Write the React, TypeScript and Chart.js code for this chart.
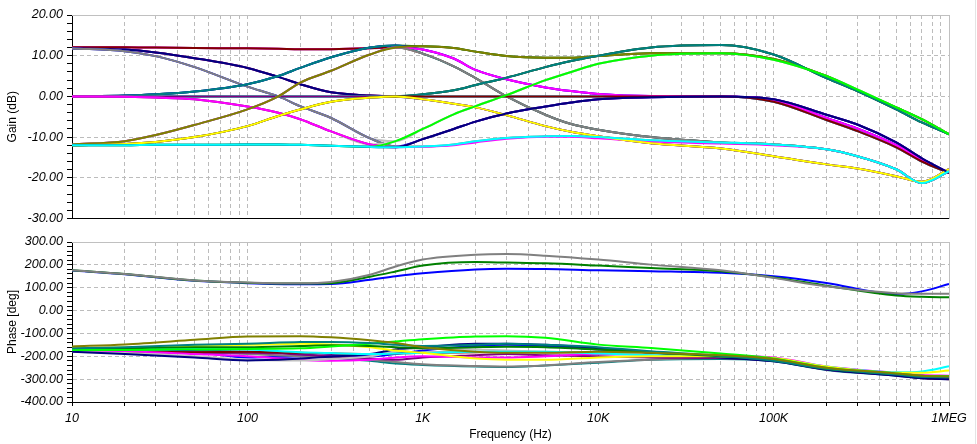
import React, { useEffect, useRef } from "react";
import { Chart, registerables } from "chart.js";

Chart.register(...registerables);

// ---------- frequencies ----------
const GAIN_FREQ = [10, 20, 30, 50, 100, 150, 200, 300, 500, 700, 1000, 1500, 2000, 3000, 5000, 7000, 10000, 20000, 50000, 100000, 200000, 300000, 500000, 700000, 1000000];
const PHASE_FREQ = [10, 20, 50, 100, 200, 300, 500, 700, 1000, 2000, 3000, 5000, 10000, 20000, 50000, 100000, 200000, 500000, 700000, 1000000];

// ---------- axis tick labels ----------
const X_DECADES = [10, 100, 1000, 10000, 100000, 1000000];
const X_LABELS = ["10", "100", "1K", "10K", "100K", "1MEG"];
const GAIN_MAJOR = [-30, -20, -10, 0, 10, 20];
const PHASE_MAJOR = [-400, -300, -200, -100, 0, 100, 200, 300];

// ---------- gain series (dB) ----------
const g01 = [12.1, 12.1, 12.0, 11.9, 11.8, 11.7, 11.6, 11.6, 11.8, 12.1, 12.3, 11.9, 11.0, 9.9, 9.5, 9.5, 9.9, 10.6, 10.6, 9.2, 5.0, 1.5, -2.7, -5.6, -9.3];
const g02 = [12.1, 12.1, 12.0, 11.9, 11.8, 11.7, 11.6, 11.6, 11.8, 12.1, 11.5, 9.3, 6.5, 4.2, 2.2, 1.3, 0.6, 0.1, 0.0, -0.9, -5.3, -7.9, -12.0, -15.6, -18.8];
const g03 = [12.1, 12.1, 12.0, 11.9, 11.8, 11.7, 11.6, 11.6, 11.8, 12.1, 10.5, 7.4, 4.5, 0.0, -4.5, -6.8, -8.2, -10.0, -11.3, -11.8, -13.0, -14.7, -17.9, -21.3, -18.4];
const g04 = [11.8, 11.5, 10.8, 9.4, 7.0, 4.8, 3.0, 1.0, 0.2, 0.0, 0.5, 1.5, 2.8, 4.6, 7.2, 8.7, 10.0, 12.0, 12.6, 10.3, 4.5, 1.3, -3.2, -6.4, -9.3];
const g05 = [11.8, 11.5, 10.8, 9.4, 7.0, 4.8, 3.0, 1.0, 0.2, 0.0, 0.0, 0.0, 0.0, 0.0, 0.0, 0.0, 0.0, 0.0, 0.0, -1.3, -5.8, -8.5, -12.5, -16.0, -18.8];
const g06 = [11.8, 11.5, 10.8, 9.4, 7.0, 4.8, 3.0, 1.0, 0.2, 0.0, -0.7, -1.8, -2.7, -4.6, -7.3, -8.7, -9.8, -11.5, -12.8, -14.7, -16.7, -17.7, -19.6, -21.0, -17.9];
const g07 = [11.8, 11.1, 9.9, 7.2, 2.4, 0.0, -2.4, -5.3, -10.3, -11.0, -8.0, -4.4, -2.4, 0.3, 4.0, 6.0, 8.0, 10.0, 10.6, 9.0, 5.0, 1.7, -2.7, -5.6, -9.3];
const g08 = [11.8, 11.1, 9.9, 7.2, 2.4, 0.0, -2.4, -5.3, -10.3, -12.3, -10.5, -8.0, -6.2, -4.2, -2.5, -1.5, -0.7, -0.2, 0.0, -0.7, -4.5, -6.9, -11.3, -15.2, -18.8];
const g09 = [11.8, 11.1, 9.9, 7.2, 2.4, 0.0, -2.4, -5.3, -10.3, -12.3, -12.3, -11.8, -11.0, -10.2, -9.8, -9.7, -10.0, -10.8, -11.3, -11.8, -13.0, -14.7, -17.9, -21.3, -18.4];
const g10 = [0.0, 0.2, 0.5, 1.2, 3.0, 5.0, 7.0, 9.6, 12.0, 12.5, 12.3, 11.9, 11.0, 9.9, 9.5, 9.5, 9.9, 10.6, 10.6, 9.2, 5.0, 1.5, -2.7, -5.6, -9.3];
const g11 = [0.0, 0.2, 0.5, 1.2, 3.0, 5.0, 7.0, 9.6, 12.0, 12.5, 11.5, 9.3, 6.5, 4.2, 2.2, 1.3, 0.6, 0.1, 0.0, -0.9, -5.3, -7.9, -12.0, -15.6, -18.8];
const g12 = [0.0, 0.2, 0.5, 1.2, 3.0, 5.0, 7.0, 9.6, 12.0, 12.5, 10.5, 7.4, 4.5, 0.0, -4.5, -6.8, -8.2, -10.0, -11.3, -11.8, -13.0, -14.7, -17.9, -21.3, -18.4];
const g13 = [0.0, 0.0, 0.0, 0.0, 0.0, 0.0, 0.0, 0.0, 0.0, 0.0, 0.5, 1.5, 2.8, 4.6, 7.2, 8.7, 10.0, 12.0, 12.6, 10.3, 4.5, 1.3, -3.2, -6.4, -9.3];
const g14 = [0.0, 0.0, 0.0, 0.0, 0.0, 0.0, 0.0, 0.0, 0.0, 0.0, 0.0, 0.0, 0.0, 0.0, 0.0, 0.0, 0.0, 0.0, 0.0, -1.3, -5.8, -8.5, -12.5, -16.0, -18.8];
const g15 = [0.0, 0.0, 0.0, 0.0, 0.0, 0.0, 0.0, 0.0, 0.0, 0.0, -0.7, -1.8, -2.7, -4.6, -7.3, -8.7, -9.8, -11.5, -12.8, -14.7, -16.7, -17.7, -19.6, -21.0, -17.9];
const g16 = [0.0, -0.1, -0.3, -0.7, -2.5, -4.0, -5.6, -8.6, -11.8, -11.0, -8.0, -4.4, -2.4, 0.3, 4.0, 6.0, 8.0, 10.0, 10.6, 9.0, 5.0, 1.7, -2.7, -5.6, -9.3];
const g17 = [0.0, -0.1, -0.3, -0.7, -2.5, -4.0, -5.6, -8.6, -11.8, -12.5, -10.5, -8.0, -6.2, -4.2, -2.5, -1.5, -0.7, -0.2, 0.0, -0.7, -4.5, -6.9, -11.3, -15.2, -18.8];
const g18 = [0.0, -0.1, -0.3, -0.7, -2.5, -4.0, -5.6, -8.6, -11.8, -12.5, -12.4, -12.0, -11.3, -10.4, -9.9, -9.9, -10.3, -11.1, -11.6, -12.0, -13.0, -14.7, -17.9, -21.3, -18.4];
const g19 = [-11.8, -11.0, -9.5, -7.0, -3.2, 0.0, 3.4, 6.3, 10.3, 12.0, 12.3, 11.9, 11.0, 9.9, 9.5, 9.5, 9.9, 10.6, 10.6, 9.2, 5.0, 1.5, -2.7, -5.6, -9.3];
const g20 = [-11.8, -11.0, -9.5, -7.0, -3.2, 0.0, 3.4, 6.3, 10.3, 12.0, 11.5, 9.3, 6.5, 4.2, 2.2, 1.3, 0.6, 0.1, 0.0, -0.9, -5.3, -7.9, -12.0, -15.6, -18.8];
const g21 = [-11.8, -11.0, -9.5, -7.0, -3.2, 0.0, 3.4, 6.3, 10.3, 12.0, 10.5, 7.4, 4.5, 0.0, -4.5, -6.8, -8.2, -10.0, -11.3, -11.8, -13.0, -14.7, -17.9, -21.3, -18.4];
const g22 = [-12.0, -11.7, -11.2, -10.0, -7.3, -4.8, -3.2, -1.3, -0.3, 0.0, 0.5, 1.5, 2.8, 4.6, 7.2, 8.7, 10.0, 12.0, 12.6, 10.3, 4.5, 1.3, -3.2, -6.4, -9.3];
const g23 = [-12.0, -11.7, -11.2, -10.0, -7.3, -4.8, -3.2, -1.3, -0.3, 0.0, 0.0, 0.0, 0.0, 0.0, 0.0, 0.0, 0.0, 0.0, 0.0, -1.3, -5.8, -8.5, -12.5, -16.0, -18.8];
const g24 = [-12.0, -11.7, -11.2, -10.0, -7.3, -4.8, -3.2, -1.3, -0.3, 0.0, -0.7, -1.8, -2.7, -4.6, -7.3, -8.7, -9.8, -11.5, -12.8, -14.7, -16.7, -17.7, -19.6, -21.0, -17.9];
const g25 = [-12.0, -12.0, -11.9, -11.9, -11.8, -11.8, -11.9, -12.1, -12.4, -11.0, -8.0, -4.4, -2.4, 0.3, 4.0, 6.0, 8.0, 10.0, 10.6, 9.0, 5.0, 1.7, -2.7, -5.6, -9.3];
const g26 = [-12.0, -12.0, -11.9, -11.9, -11.8, -11.8, -11.9, -12.1, -12.4, -12.5, -10.5, -8.0, -6.2, -4.2, -2.5, -1.5, -0.7, -0.2, 0.0, -0.7, -4.5, -6.9, -11.3, -15.2, -18.8];
const g27 = [-12.0, -12.0, -11.9, -11.9, -11.8, -11.8, -11.9, -12.1, -12.4, -12.5, -12.3, -11.8, -11.0, -10.2, -9.8, -9.7, -10.0, -10.8, -11.3, -11.8, -13.0, -14.7, -17.9, -21.3, -18.4];

// drawn in this order (last one on top)
const GAIN_SERIES = [g01, g02, g03, g04, g05, g06, g07, g08, g09, g10, g11, g12, g13, g14, g15, g16, g17, g18, g20, g21, g19, g22, g23, g24, g25, g26, g27];
const GAIN_COLORS = [
  "#808080", "#FF00FF", "#800000", "#800080", "#800080", "#000080", "#C0C0C0", "#0000FF", "#808080",
  "#008000", "#0000FF", "#008080", "#008000", "#00FFFF", "#800080", "#C0C0C0", "#800080", "#FF00FF",
  "#FF00FF", "#808080", "#808000", "#008080", "#800000", "#FFFF00", "#00FF00", "#000080", "#00FFFF",
];

// ---------- phase series (deg) ----------
const u01 = [176, 160, 132, 123, 119, 125, 157, 193, 223, 244, 247, 240, 223, 201, 176, 143, 106, 76, 74, 74];
const u02 = [176, 160, 132, 122, 118, 120, 148, 171, 197, 212, 210, 207, 197, 186, 172, 145, 109, 66, 60, 58];
const u03 = [175, 159, 130, 120, 115, 116, 135, 150, 163, 180, 183, 182, 176, 172, 165, 150, 121, 72, 84, 116];
const p01 = [-157, -148, -128, -113, -112, -117, -130, -142, -160, -180, -185, -185, -180, -185, -195, -212, -250, -275, -285, -288];
const p02 = [-165, -160, -150, -145, -138, -137, -142, -150, -155, -150, -145, -150, -160, -178, -198, -220, -255, -280, -290, -292];
const p03 = [-172, -172, -170, -168, -165, -157, -145, -135, -125, -113, -112, -119, -149, -164, -188, -210, -250, -275, -285, -287];
const p04 = [-168, -165, -160, -160, -155, -152, -155, -160, -165, -160, -158, -160, -170, -183, -200, -218, -255, -278, -287, -288];
const p05 = [-165, -162, -155, -150, -145, -148, -160, -175, -185, -210, -215, -215, -205, -200, -200, -208, -245, -272, -272, -262];
const p06 = [-170, -170, -168, -170, -182, -186, -190, -188, -185, -180, -180, -180, -188, -195, -200, -210, -245, -270, -266, -244];
const p07 = [-180, -190, -205, -218, -210, -202, -190, -170, -160, -145, -145, -150, -165, -185, -205, -222, -258, -285, -296, -300];
const p08 = [-180, -186, -200, -215, -218, -212, -200, -178, -165, -170, -175, -180, -185, -190, -200, -215, -252, -280, -290, -292];
const p09 = [-175, -178, -190, -200, -215, -220, -215, -205, -200, -205, -205, -200, -190, -192, -198, -205, -245, -272, -282, -285];
const p10 = [-178, -180, -182, -180, -185, -188, -190, -188, -185, -182, -180, -182, -185, -190, -200, -215, -255, -283, -295, -300];
const p11 = [-175, -180, -185, -185, -192, -200, -210, -215, -205, -195, -190, -195, -200, -205, -208, -220, -258, -282, -292, -295];
const p12 = [-172, -175, -182, -190, -200, -205, -215, -225, -235, -243, -245, -240, -225, -215, -208, -215, -250, -278, -288, -290];
const p13 = [-170, -172, -180, -205, -200, -196, -200, -190, -175, -155, -150, -155, -170, -185, -202, -215, -252, -280, -290, -292];
const p14 = [-168, -170, -175, -180, -190, -205, -220, -232, -238, -245, -247, -240, -228, -215, -212, -222, -260, -285, -295, -297];

// drawn in this order (last one on top)
const PHASE_SERIES = [p14, p13, p12, p11, p10, p09, p08, p07, p06, p05, p04, p03, p02, p01, u03, u02, u01];
const PHASE_COLORS = [
  "#008080", "#0000FF", "#808080", "#800080", "#800000", "#FF00FF", "#C0C0C0", "#000080", "#00FFFF",
  "#FFFF00", "#008000", "#00FF00", "#008080", "#808000", "#0000FF", "#008000", "#808080",
];

// ---------- styling ----------
const FONT = "'Liberation Sans', Arial, Helvetica, sans-serif";
const GRID = "#bcbcbc";
const DASH = [4, 3];

function xTickList(): number[] {
  const list: number[] = [];
  for (let d = 0; d < X_DECADES.length - 1; d++) {
    for (let k = 1; k <= 9; k++) list.push(X_DECADES[d] * k);
  }
  list.push(X_DECADES[X_DECADES.length - 1]);
  return list;
}

function yTickList(major: number[], sub: number): number[] {
  const list: number[] = [];
  for (let i = 0; i < major.length - 1; i++) {
    const step = (major[i + 1] - major[i]) / sub;
    for (let k = 0; k < sub; k++) list.push(major[i] + k * step);
  }
  list.push(major[major.length - 1]);
  return list;
}

const framePlugin = {
  id: "frameLines",
  beforeDatasetsDraw(chart: any) {
    const { ctx, chartArea } = chart;
    const l = Math.round(chartArea.left);
    const r = Math.round(chartArea.right) + 0.5;
    const t = Math.round(chartArea.top) + 0.5;
    const b = Math.round(chartArea.bottom);
    ctx.save();
    ctx.strokeStyle = "#c0c0c0";
    ctx.lineWidth = 1;
    ctx.setLineDash([]);
    ctx.beginPath();
    ctx.moveTo(l, t);
    ctx.lineTo(r, t);
    ctx.lineTo(r, b);
    ctx.stroke();
    ctx.restore();
  },
};

function buildDatasets(series: number[][], freqs: number[], colors: string[]) {
  const n = series.length;
  return series.map((vals, i) => ({
    data: vals.map((y, j) => ({ x: freqs[j], y })),
    borderColor: colors[i],
    backgroundColor: colors[i],
    borderWidth: 2,
    pointRadius: 0,
    fill: false,
    order: n - i,
    cubicInterpolationMode: "monotone" as const,
  }));
}

function xScale(showLabels: boolean, height: number) {
  const ticks = xTickList();
  return {
    type: "logarithmic" as const,
    min: 10,
    max: 1000000,
    afterBuildTicks: (s: any) => {
      s.ticks = ticks.map((v) => ({ value: v }));
    },
    afterFit: (s: any) => {
      s.height = height;
    },
    ticks: {
      display: showLabels,
      autoSkip: false,
      maxRotation: 0,
      minRotation: 0,
      padding: 5,
      color: "#000",
      font: { family: FONT, size: 12.5, style: "italic" as const },
      callback: (v: any) => {
        const idx = X_DECADES.indexOf(Number(v));
        return idx >= 0 ? X_LABELS[idx] : "";
      },
    },
    grid: {
      color: GRID,
      lineWidth: 1,
      drawTicks: showLabels,
      tickLength: 4,
      tickColor: "#000",
    },
    border: { display: true, color: "#000", width: 1, dash: DASH },
    title: showLabels
      ? {
          display: true,
          text: "Frequency (Hz)",
          color: "#000",
          font: { family: FONT, size: 12 },
          padding: { top: 0, bottom: 2 },
        }
      : { display: false },
  };
}

function yScale(min: number, max: number, major: number[], sub: number, title: string) {
  const ticks = yTickList(major, sub);
  return {
    type: "linear" as const,
    min,
    max,
    afterBuildTicks: (s: any) => {
      s.ticks = ticks.map((v) => ({ value: v }));
    },
    afterFit: (s: any) => {
      s.width = 72;
    },
    ticks: {
      autoSkip: false,
      padding: 4,
      color: "#000",
      font: { family: FONT, size: 12.5, style: "italic" as const },
      callback: (v: any) => (major.indexOf(Number(v)) >= 0 ? Number(v).toFixed(2) : ""),
    },
    grid: {
      color: (c: any) => (c.tick && major.indexOf(c.tick.value) >= 0 ? GRID : "rgba(0,0,0,0)"),
      lineWidth: 1,
      drawTicks: true,
      tickLength: 5,
      tickColor: "#000",
    },
    border: { display: true, color: "#000", width: 1, dash: DASH },
    title: {
      display: true,
      text: title,
      color: "#000",
      font: { family: FONT, size: 12 },
      padding: { top: 5, bottom: 0 },
    },
  };
}

export default function App() {
  const gainRef = useRef<HTMLCanvasElement | null>(null);
  const phaseRef = useRef<HTMLCanvasElement | null>(null);

  useEffect(() => {
    const common = {
      animation: false as const,
      responsive: false,
      maintainAspectRatio: false,
      events: [] as any[],
      plugins: { legend: { display: false }, tooltip: { enabled: false }, title: { display: false } },
    };

    const gain = new Chart(gainRef.current as HTMLCanvasElement, {
      type: "line",
      data: { datasets: buildDatasets(GAIN_SERIES, GAIN_FREQ, GAIN_COLORS) as any },
      options: {
        ...common,
        layout: { padding: { left: 0, right: 28, top: 15, bottom: 0 } },
        scales: {
          x: xScale(false, 11) as any,
          y: yScale(-30, 20, GAIN_MAJOR, 5, "Gain (dB)") as any,
        },
      } as any,
      plugins: [framePlugin],
    });

    const phase = new Chart(phaseRef.current as HTMLCanvasElement, {
      type: "line",
      data: { datasets: buildDatasets(PHASE_SERIES, PHASE_FREQ, PHASE_COLORS) as any },
      options: {
        ...common,
        layout: { padding: { left: 0, right: 28, top: 12, bottom: 0 } },
        scales: {
          x: xScale(true, 42) as any,
          y: yScale(-400, 300, PHASE_MAJOR, 5, "Phase [deg]") as any,
        },
      } as any,
      plugins: [framePlugin],
    });

    return () => {
      gain.destroy();
      phase.destroy();
    };
  }, []);

  return (
    <div style={{ position: "absolute", left: 0, top: 0, width: 977, height: 444, background: "#fff", overflow: "hidden" }}>
      <canvas ref={gainRef} width={977} height={230} style={{ position: "absolute", left: 0, top: 0, width: 977, height: 230 }} />
      <canvas ref={phaseRef} width={977} height={214} style={{ position: "absolute", left: 0, top: 230, width: 977, height: 214 }} />
      <div style={{ position: "absolute", left: 975, top: 0, width: 1, height: 444, background: "#e4e4e4" }} />
    </div>
  );
}
